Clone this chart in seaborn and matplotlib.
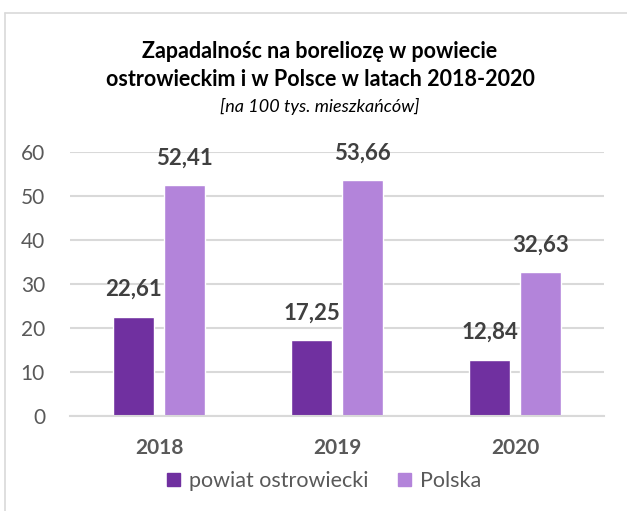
import matplotlib
matplotlib.use("Agg")
import matplotlib.pyplot as plt
import seaborn as sns
import pandas as pd
from matplotlib.lines import Line2D
from matplotlib.patches import Patch

years = ["2018", "2019", "2020"]
series_names = ["powiat ostrowiecki", "Polska"]
powiat = [22.61, 17.25, 12.84]
polska = [52.41, 53.66, 32.63]
yticks = [0, 10, 20, 30, 40, 50, 60]

title_l1 = "Zapadalnośc na boreliozę w powiecie"
title_l2 = "ostrowieckim i w Polsce w latach 2018-2020"
subtitle = "[na 100 tys. mieszkańców]"

colors = ["#7030A0", "#B384DA"]

df = pd.DataFrame({
    "rok": years * 2,
    "seria": [series_names[0]] * 3 + [series_names[1]] * 3,
    "wartosc": powiat + polska,
})

sns.set_style("white")
plt.rcParams["font.family"] = ["Lato", "DejaVu Sans"]

fig = plt.figure(figsize=(6.27, 5.11), dpi=100)
ax = fig.add_axes([70 / 627, 1 - 416 / 511, 534 / 627, 264 / 511])

sns.barplot(data=df, x="rok", y="wartosc", hue="seria", order=years,
            hue_order=series_names, palette=colors, width=0.573, gap=0.215,
            ax=ax, legend=False, saturation=1, errorbar=None)

ax.set_xlim(-0.5, 2.5)
ax.set_ylim(0, 60)
ax.set_yticks(yticks)
ax.set_yticklabels([str(t) for t in yticks], fontsize=15, color="#595959")
ax.set_xticks(range(len(years)))
ax.set_xticklabels(years, fontsize=15, fontweight="bold", color="#595959")
ax.tick_params(axis="y", length=0, pad=18)
ax.tick_params(axis="x", length=0, pad=16)
ax.set_xlabel("")
ax.set_ylabel("")
ax.yaxis.grid(True, color="#D9D9D9", linewidth=1.5)
ax.set_axisbelow(True)
for s in ["top", "right", "left"]:
    ax.spines[s].set_visible(False)
ax.spines["bottom"].set_color("#D9D9D9")
ax.spines["bottom"].set_linewidth(1.5)

for cont in ax.containers:
    labels = [f"{b.get_height():.2f}".replace(".", ",") for b in cont]
    ax.bar_label(cont, labels=labels, padding=12, fontsize=16,
                 fontweight="bold", color="#404040")

fig.text(320 / 627, 1 - 52 / 511, title_l1, ha="center", va="center",
         fontsize=15.5, fontweight="bold", color="black")
fig.text(320 / 627, 1 - 79 / 511, title_l2, ha="center", va="center",
         fontsize=15.5, fontweight="bold", color="black")
fig.text(320 / 627, 1 - 106 / 511, subtitle, ha="center", va="center",
         fontsize=13, fontstyle="italic", color="black")

handles = [Patch(facecolor=c, edgecolor=c) for c in colors]
fig.legend(handles, series_names, loc="center", bbox_to_anchor=(324 / 627, 1 - 481 / 511),
           ncol=2, frameon=False, fontsize=15.5, labelcolor="#595959",
           handlelength=0.6, handleheight=0.6, handletextpad=0.4, columnspacing=1.4)

fig.add_artist(Line2D([5 / 627, 5 / 627], [0, 1 - 13 / 511], transform=fig.transFigure,
                      color="#D9D9D9", linewidth=1.2))
fig.add_artist(Line2D([5 / 627, 1], [1 - 13 / 511, 1 - 13 / 511], transform=fig.transFigure,
                      color="#D9D9D9", linewidth=1.2))

fig.savefig("out.png", dpi=100)
